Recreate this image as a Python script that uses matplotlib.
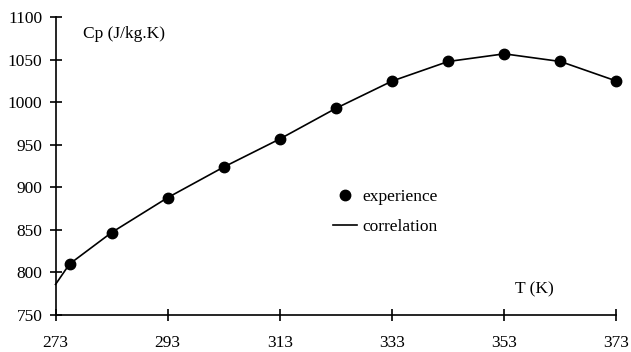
"""
Cp vs temperature: experimental points and correlation curve.
"""

import matplotlib
matplotlib.use('Agg')
import matplotlib.pyplot as plt

# ── Data ────────────────────────────────────────────
T_exp = [275.5, 283, 293, 303, 313, 323, 333, 343, 353, 363, 373]
cp_exp = [810, 847, 888, 924, 957, 993, 1025, 1048, 1057, 1048, 1025]

T_corr = [273, 275.5, 283, 293, 303, 313, 323, 333, 343, 353, 363, 373]
cp_corr = [786, 810, 847, 888, 924, 957, 993, 1025, 1048, 1057, 1048, 1025]

x_ticks = [273, 293, 313, 333, 353, 373]
y_ticks = [750, 800, 850, 900, 950, 1000, 1050, 1100]

FONT = 'Liberation Serif'
FS = 12.5

plt.rcParams['font.family'] = [FONT, 'DejaVu Serif']

fig = plt.figure(figsize=(6.31, 3.52), dpi=100)
ax = fig.add_axes([0.088, 0.105, 0.889, 0.846])

ax.plot(T_corr, cp_corr, color='black', lw=1.2, label='correlation',
        zorder=2, clip_on=False)
ax.plot(T_exp, cp_exp, 'o', color='black', ms=7.5, label='experience',
        linestyle='none', zorder=3, clip_on=False)

ax.set_xlim(273, 373)
ax.set_ylim(750, 1100)
ax.set_xticks(x_ticks)
ax.set_yticks(y_ticks)

for side in ('top', 'right'):
    ax.spines[side].set_visible(False)
for side in ('left', 'bottom'):
    ax.spines[side].set_linewidth(1.2)

ax.tick_params(axis='both', direction='inout', length=9, width=1.2,
               labelsize=FS)
ax.tick_params(axis='x', pad=10)
ax.tick_params(axis='y', pad=5)

ax.text(277.9, 1080, 'Cp (J/kg.K)', fontsize=FS, va='center', ha='left')
ax.text(354.9, 780.5, 'T (K)', fontsize=FS, va='center', ha='left')

handles, labels = ax.get_legend_handles_labels()
ax.legend(handles[::-1], labels[::-1], loc='center left',
          bbox_to_anchor=(0.494, 0.346), frameon=False, fontsize=FS,
          borderpad=0, borderaxespad=0, handlelength=1.4,
          handletextpad=0.3, labelspacing=0.8)

fig.savefig('out.png', dpi=100)
